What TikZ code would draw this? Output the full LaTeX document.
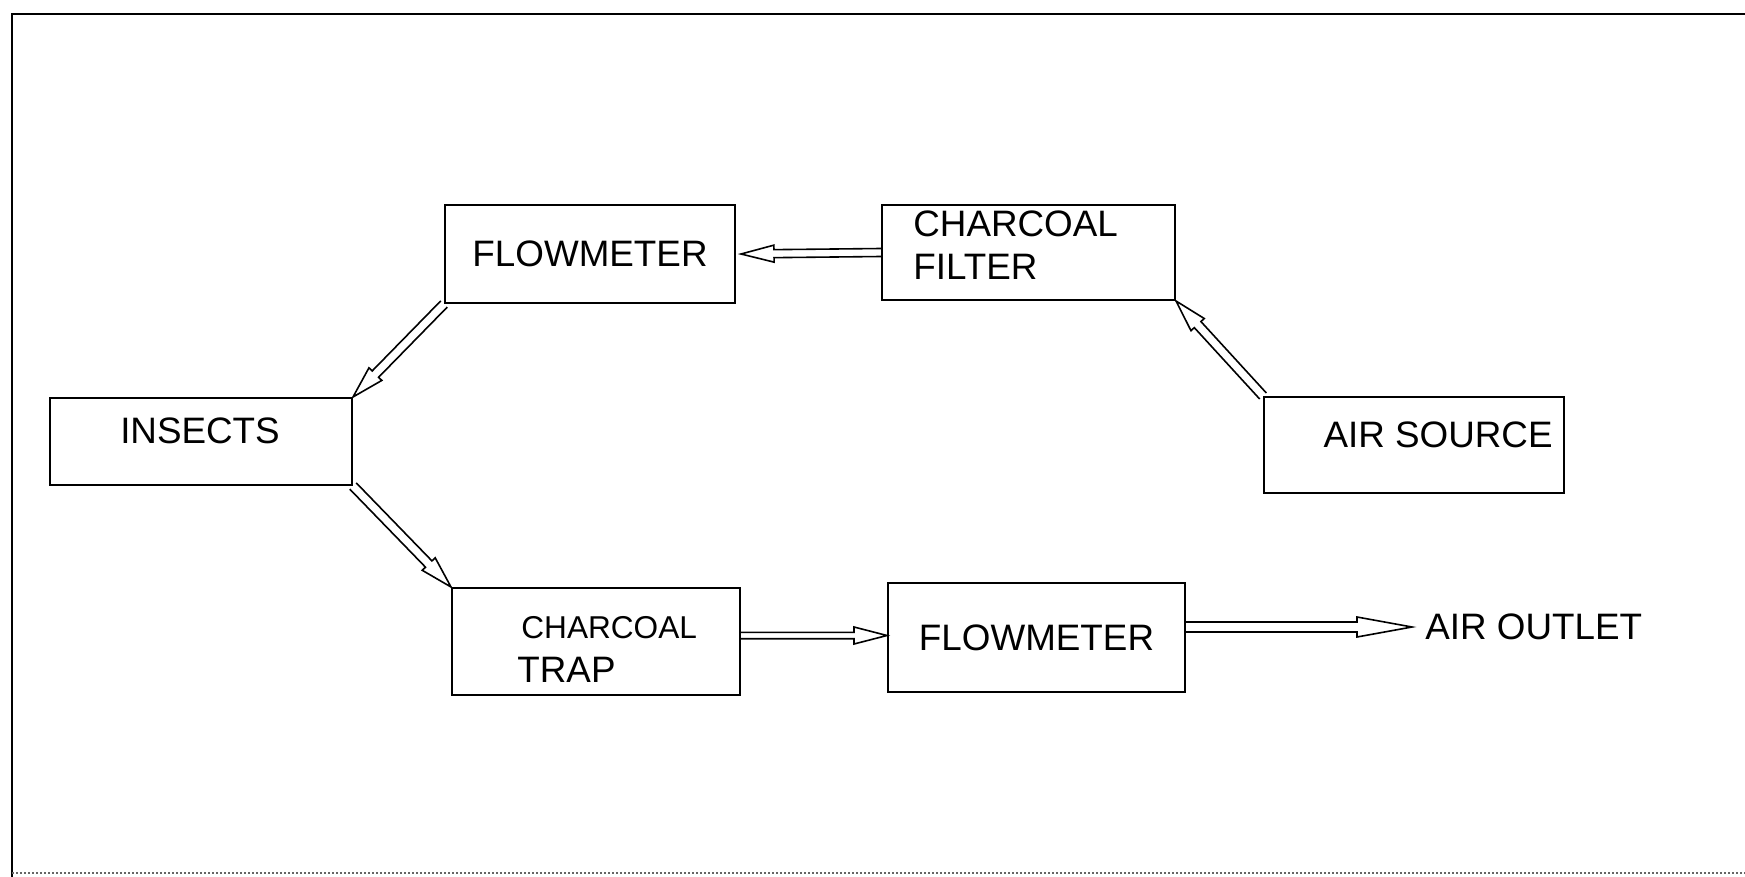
\documentclass[tikz,border=0pt]{standalone}
\usepackage{fontspec}
\setmainfont{Liberation Sans}
\usetikzlibrary{calc}
\newcommand{\fsmain}{\fontsize{18.4pt}{22pt}\selectfont}
\newcommand{\fssmall}{\fontsize{15.8pt}{19pt}\selectfont}
\newcommand{\harrow}[5]{%
  \coordinate (hA) at (#1);
  \coordinate (hB) at (#2);
  \coordinate (hC) at ($(hB)!#5!(hA)$);
  \draw[arrowline] ($(hA)!#3!90:(hB)$) -- ($(hC)!#3!90:(hB)$) -- ($(hC)!#4!90:(hB)$) -- (hB)
     -- ($(hC)!#4!-90:(hB)$) -- ($(hC)!#3!-90:(hB)$) -- ($(hA)!#3!-90:(hB)$);
}
\begin{document}
\begin{tikzpicture}[x=0.5pt,y=-0.5pt,
  box/.style={draw, line width=1pt, inner sep=0pt, font=\fsmain},
  label/.style={inner sep=0pt, font=\fsmain},
  arrowline/.style={line width=0.8pt, line join=miter}]
\useasboundingbox (0,0) rectangle (1745,877);
% frame
\draw[line width=1.3pt] (12,877) -- (12,14) -- (1745,14);
\draw[black!60, line width=1pt, densely dotted] (12,873) -- (1745,873);
% boxes
\node[box, minimum width=145pt, minimum height=49pt] (FM1) at (590,254) {FLOWMETER};
\node[box, minimum width=146.5pt, minimum height=47.5pt] (CF) at (1028.5,252.5) {};
\node[box, minimum width=151pt, minimum height=43.5pt] (INS) at (201,441.5) {};
\node[box, minimum width=150pt, minimum height=48pt] (AS) at (1414,445) {};
\node[box, minimum width=144pt, minimum height=53.5pt] (CT) at (596,641.5) {};
\node[box, minimum width=148.5pt, minimum height=54.5pt] (FM2) at (1036.5,637.5) {FLOWMETER};
% texts
\node[label, anchor=base west] (cfT1) at (913,237) {CHARCOAL};
\node[label, anchor=base west] (cfT2) at (913,279) {FILTER};
\node[label] (insT) at (200,430.5) {INSECTS};
\node[label, anchor=base east] (asT) at (1553,447) {AIR SOURCE};
\node[label, font=\fssmall, anchor=base west] (ctT1) at (521,638) {CHARCOAL};
\node[label, anchor=base west] (ctT2) at (517,682) {TRAP};
\node[label, anchor=west, inner xsep=6.5pt] (out) at (1412,627) {AIR OUTLET};
% connectors
\coordinate (a1h) at ([xshift=2.5pt]FM1.east);
\harrow{CF.west}{a1h}{2pt}{4.25pt}{16.5pt}
\harrow{FM1.south west}{INS.north east}{2.25pt}{4.5pt}{16pt}
\harrow{INS.south east}{CT.north west}{2.25pt}{4.5pt}{16pt}
\harrow{AS.north west}{CF.south east}{2.25pt}{4.5pt}{16pt}
\coordinate (a5t) at ([yshift=3pt]CT.east);
\coordinate (a5h) at (a5t -| FM2.west);
\harrow{a5t}{a5h}{1.6pt}{4.25pt}{16.5pt}
\coordinate (a6t) at ([yshift=5.25pt]FM2.east);
\harrow{a6t}{out.west}{2.5pt}{5pt}{27.5pt}
\end{tikzpicture}
\end{document}
